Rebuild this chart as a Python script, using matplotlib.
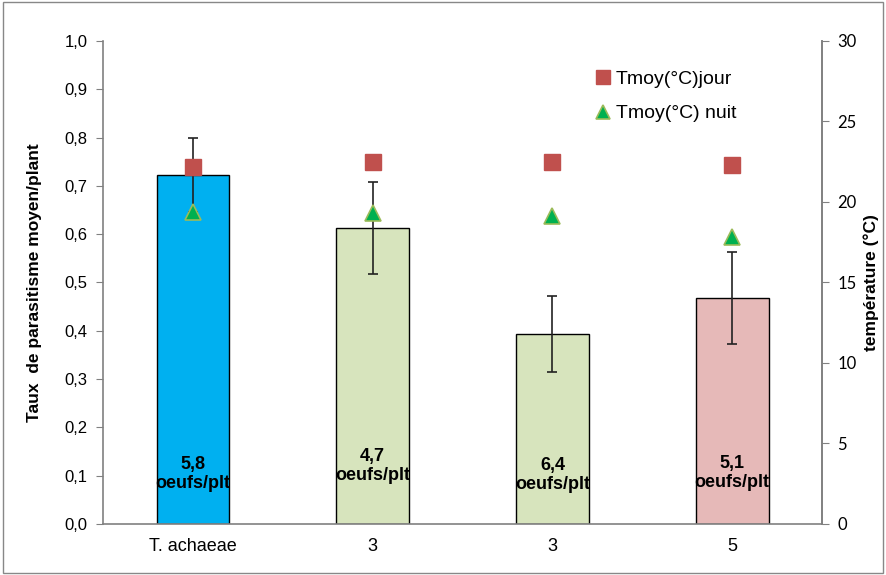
import numpy as np
import matplotlib
matplotlib.use('Agg')
from matplotlib import pyplot as plt
from matplotlib.patches import Rectangle

# parasitism rate per plant, with error, and mean temperatures
categories = ['T. achaeae', '3', '3', '5']
taux = [0.722, 0.613, 0.393, 0.468]
taux_err = [0.077, 0.095, 0.079, 0.095]
oeufs = ['5,8', '4,7', '6,4', '5,1']
label_y = [0.104, 0.120, 0.102, 0.106]
t_jour = [22.2, 22.5, 22.5, 22.3]
t_nuit = [19.4, 19.3, 19.1, 17.8]
bar_colors = ['#00B0F0', '#D7E4BD', '#D7E4BD', '#E6B9B8']

narrow = ['Liberation Sans Narrow', 'Liberation Sans', 'DejaVu Sans']
plt.rcParams['font.family'] = ['Liberation Sans', 'DejaVu Sans']

fig = plt.figure(figsize=(8.86, 5.75), dpi=100)
ax = fig.add_axes([0.1163, 0.0887, 0.8115, 0.840])
x = np.arange(len(categories))

ax.bar(x, taux, width=0.405, color=bar_colors, edgecolor='black', linewidth=1.0, zorder=2)
ax.errorbar(x, taux, yerr=taux_err, fmt='none', ecolor='#222222', elinewidth=1.2,
            capsize=3.5, capthick=1.2, zorder=4)

for xi, txt, ly in zip(x, oeufs, label_y):
    ax.text(xi, ly, txt + '\noeufs/plt', ha='center', va='center', fontsize=13,
            fontweight='bold', family=narrow, linespacing=1.15, zorder=5)

ax.set_xlim(-0.5, 3.5)
ax.set_ylim(0, 1.0)
yt = np.arange(0, 1.01, 0.1)
ax.set_yticks(yt)
ax.set_yticklabels([('%.1f' % v).replace('.', ',') for v in yt], fontsize=12, family=narrow)
ax.set_xticks(x)
ax.set_xticklabels(categories, fontsize=13, family=narrow)
ax.tick_params(axis='x', length=0, pad=10)
ax.tick_params(axis='y', direction='out', length=5, color='#808080', pad=6)
ax.set_ylabel('Taux  de parasitisme moyen/plant', fontsize=12.5, fontweight='bold', labelpad=16)

ax.spines['top'].set_visible(False)
for s in ['left', 'bottom', 'right']:
    ax.spines[s].set_color('#808080')
    ax.spines[s].set_linewidth(1.2)

# temperatures on the right axis, drawn above the bars
ax2 = ax.twinx()
ax2.set_ylim(0, 30)
ax2.set_yticks(range(0, 31, 5))
ax2.tick_params(axis='y', direction='out', length=5, color='#808080', labelsize=12, pad=6)
for lab in ax2.get_yticklabels():
    lab.set_family(['Lato', 'DejaVu Sans'])
ax2.spines['top'].set_visible(False)
ax2.spines['right'].set_color('#808080')
ax2.spines['right'].set_linewidth(1.2)
ax2.spines['left'].set_visible(False)
ax2.spines['bottom'].set_visible(False)
ax2.set_ylabel('température (°C)', fontsize=12.5, fontweight='bold', labelpad=5)

ax2.plot(x, t_jour, 's', color='#C0504D', markersize=11, markeredgecolor='#C0504D',
         label='Tmoy(°C)jour', zorder=3)
ax2.plot(x, t_nuit, '^', color='#00B050', markersize=11, markeredgecolor='#9BBB59',
         markeredgewidth=1.2, label='Tmoy(°C) nuit', zorder=6)

leg = ax2.legend(loc='upper left', bbox_to_anchor=(0.655, 0.975), frameon=False, fontsize=14,
                 handletextpad=0.05, labelspacing=0.85, markerscale=0.95, handlelength=1.2)

fig.patches.append(Rectangle((0.003, 0.004), 0.994, 0.992, transform=fig.transFigure,
                             fill=False, edgecolor='#888888', linewidth=1.0))

fig.savefig('out.png', dpi=100)
